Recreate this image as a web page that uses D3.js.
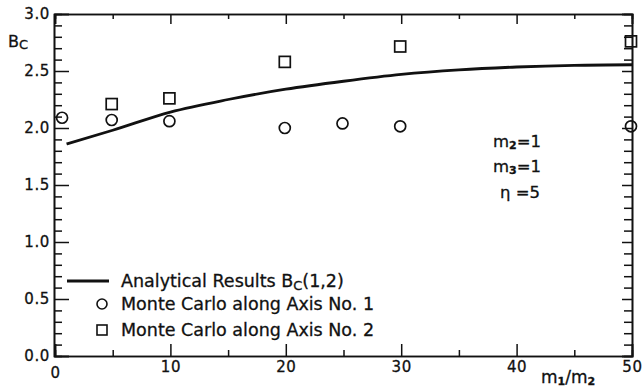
<!DOCTYPE html>
<html>
<head>
<meta charset="utf-8">
<script src="https://cdn.jsdelivr.net/npm/d3@7"></script>
<style>
  html, body { margin: 0; padding: 0; background: #fff; }
  svg { display: block; }
  text { font-family: "DejaVu Sans", sans-serif; fill: #111; stroke: #111; stroke-width: 0.3; }
</style>
</head>
<body>
<svg id="chart" width="642" height="387"></svg>
<script>
// ---- data ----
const analyticalX = [1, 5, 10, 15, 20, 25, 30, 35, 40, 45, 50];
const analyticalY = [1.86, 1.98, 2.14, 2.25, 2.34, 2.41, 2.47, 2.51, 2.535, 2.55, 2.555];
const axis1X = [0.7, 5, 10, 20, 25, 30, 50];
const axis1Y = [2.09, 2.07, 2.06, 2.0, 2.04, 2.015, 2.015];
const axis2X = [5, 10, 20, 30, 50];
const axis2Y = [2.21, 2.26, 2.58, 2.715, 2.76];
const xMajorTicks = [0, 10, 20, 30, 40, 50];
const xMinorTicks = [5, 15, 25, 35, 45];
const yMajorTicks = [0, 0.5, 1.0, 1.5, 2.0, 2.5, 3.0];
const yMinorTicks = [0.1,0.2,0.3,0.4,0.6,0.7,0.8,0.9,1.1,1.2,1.3,1.4,1.6,1.7,1.8,1.9,2.1,2.2,2.3,2.4,2.6,2.7,2.8,2.9];
const legendLabels = ["Analytical Results B", "Monte Carlo along Axis No. 1", "Monte Carlo along Axis No. 2"];

// ---- layout ----
const L = 54, R = 632, T = 14, B = 356;
const svg = d3.select("#chart");
const x = d3.scaleLinear().domain([0, 50]).range([L + 1, R]);
const y = d3.scaleLinear().domain([0, 3]).range([B, T]);
const ink = "#111";

function styleAxis(g) {
  g.select(".domain").attr("stroke", ink).attr("stroke-width", 1.6);
  g.selectAll(".tick line").attr("stroke", ink).attr("stroke-width", 1.5);
  g.selectAll("text").attr("font-family", "DejaVu Sans").attr("font-size", 15)
    .attr("letter-spacing", 0.6).attr("fill", ink);
}

// left axis
svg.append("g").attr("transform", `translate(${L},0)`)
  .call(d3.axisLeft(y).tickValues(yMajorTicks).tickSize(-15).tickPadding(4).tickFormat(d3.format(".1f")))
  .call(styleAxis);
svg.append("g").attr("transform", `translate(${L},0)`)
  .call(d3.axisLeft(y).tickValues(yMinorTicks).tickSize(-8).tickFormat(""))
  .call(styleAxis);
// right axis
svg.append("g").attr("transform", `translate(${R},0)`)
  .call(d3.axisRight(y).tickValues(yMajorTicks).tickSize(-10).tickFormat(""))
  .call(styleAxis);
svg.append("g").attr("transform", `translate(${R},0)`)
  .call(d3.axisRight(y).tickValues(yMinorTicks).tickSize(-8).tickFormat(""))
  .call(styleAxis);
// bottom axis
const bx = svg.append("g").attr("transform", `translate(0,${B})`)
  .call(d3.axisBottom(x).tickValues(xMajorTicks).tickSize(-12).tickPadding(5).tickFormat(d3.format("d")))
  .call(styleAxis);
bx.selectAll(".tick text").filter(d => d === 0).attr("dy", "1.1em");
svg.append("g").attr("transform", `translate(0,${B})`)
  .call(d3.axisBottom(x).tickValues(xMinorTicks).tickSize(-6).tickFormat(""))
  .call(styleAxis);
// top axis
svg.append("g").attr("transform", `translate(0,${T})`)
  .call(d3.axisTop(x).tickValues(xMajorTicks).tickSize(-10).tickFormat(""))
  .call(styleAxis);
svg.append("g").attr("transform", `translate(0,${T})`)
  .call(d3.axisTop(x).tickValues(xMinorTicks).tickSize(-5).tickFormat(""))
  .call(styleAxis);

// analytical curve
const line = d3.line().x(d => x(d[0])).y(d => y(d[1])).curve(d3.curveMonotoneX);
svg.append("path").datum(d3.zip(analyticalX, analyticalY))
  .attr("d", line).attr("fill", "none").attr("stroke", ink).attr("stroke-width", 2.8);

// circles
svg.append("g").selectAll("circle").data(d3.zip(axis1X, axis1Y)).join("circle")
  .attr("cx", d => x(d[0]) - 1).attr("cy", d => y(d[1])).attr("r", 5.5)
  .attr("fill", "none").attr("stroke", ink).attr("stroke-width", 1.7);
// squares
const sq = 11;
svg.append("g").selectAll("rect").data(d3.zip(axis2X, axis2Y)).join("rect")
  .attr("x", d => x(d[0]) - 1 - sq / 2).attr("y", d => y(d[1]) - sq / 2)
  .attr("width", sq).attr("height", sq)
  .attr("fill", "none").attr("stroke", ink).attr("stroke-width", 1.7);

// y label Bc
const yl = svg.append("text").attr("x", 8).attr("y", 47).attr("font-size", 16);
yl.append("tspan").text("B");
yl.append("tspan").attr("font-size", 13).attr("dy", 2).text("C");

// x label m1/m2
const xl = svg.append("text").attr("x", 541).attr("y", 383).attr("font-size", 17);
xl.append("tspan").text("m");
xl.append("tspan").attr("font-size", 11).attr("dy", 2).attr("font-weight", "bold").text("1");
xl.append("tspan").attr("dy", -2).text("/m");
xl.append("tspan").attr("font-size", 11).attr("dy", 2).attr("font-weight", "bold").text("2");

// parameter annotations
const ann = [["m", "2", "=1", 493, 147], ["m", "3", "=1", 493, 172]];
ann.forEach(a => {
  const t = svg.append("text").attr("x", a[3]).attr("y", a[4]).attr("font-size", 16.5);
  t.append("tspan").text(a[0]);
  t.append("tspan").attr("font-size", 11).attr("dy", 2).attr("font-weight", "bold").text(a[1]);
  t.append("tspan").attr("dy", -2).text(a[2]);
});
svg.append("text").attr("x", 500).attr("y", 198).attr("font-size", 16.5).text("η =5");

// legend
const lg = svg.append("g");
lg.append("line").attr("x1", 67).attr("x2", 109).attr("y1", 281).attr("y2", 281)
  .attr("stroke", ink).attr("stroke-width", 2.8);
const t1 = lg.append("text").attr("x", 121).attr("y", 287).attr("font-size", 17.5);
t1.append("tspan").text(legendLabels[0]);
t1.append("tspan").attr("font-size", 13).attr("dy", 3).text("C");
t1.append("tspan").attr("dy", -3).text("(1,2)");
lg.append("circle").attr("cx", 102).attr("cy", 304).attr("r", 5)
  .attr("fill", "none").attr("stroke", ink).attr("stroke-width", 1.6);
lg.append("text").attr("x", 121).attr("y", 310).attr("font-size", 17.5).text(legendLabels[1]);
lg.append("rect").attr("x", 97).attr("y", 325).attr("width", 10).attr("height", 10)
  .attr("fill", "none").attr("stroke", ink).attr("stroke-width", 1.6);
lg.append("text").attr("x", 121).attr("y", 336).attr("font-size", 17.5).text(legendLabels[2]);
</script>
</body>
</html>
